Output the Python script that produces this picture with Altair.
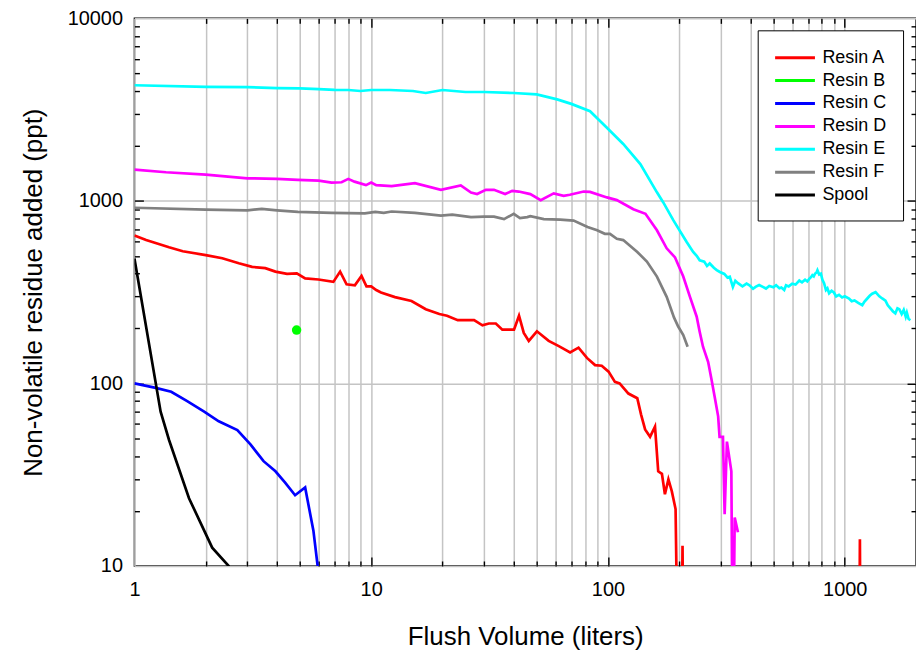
import altair as alt
import pandas as pd

# ---------------- data ----------------
names = ["Resin A", "Resin B", "Resin C", "Resin D", "Resin E", "Resin F", "Spool"]
colors = ["#ff0000", "#00ff00", "#0000ff", "#ff00ff", "#00ffff", "#808080", "#000000"]

resin_a_x = [1, 1.12, 1.40, 1.60, 2.0, 2.35, 2.76, 3.14, 3.57, 3.94, 4.41, 4.85, 5.26, 5.99,
             6.92, 7.39, 7.87, 8.53, 9.1, 9.55, 10.0, 10.5, 11.0, 12.6, 14.8, 17.0, 19.4, 20.9,
             23.2, 27.2, 29.5, 31.4, 33.6, 35.8, 40.1, 42.1, 44.1, 46.3, 50.1, 56.2, 62.0, 69.2,
             75.1, 81.5, 88.2, 94.1, 100.6, 107, 112, 122, 133, 138, 143.5, 150.6, 158, 163,
             169, 174, 180, 186, 193, 198, 204, 206.5, 209, 1150, 1159, 1168]
resin_a_y = [647, 610, 557, 530, 505, 485, 455, 435, 428, 410, 398, 401, 376, 371,
             360, 410, 349, 345, 388, 340, 340, 325, 315, 297, 283, 255, 240, 235,
             222, 222, 208, 213, 213, 197, 197, 235, 189, 171, 193, 171, 160, 148,
             157, 138, 126, 125, 116, 102, 100, 88, 83, 67.5, 56, 51, 58, 33,
             32, 24.7, 29.8, 25.7, 20.5, 2, 2, 12.9, 2, 2, 14, 2]

resin_b_x = [4.84]
resin_b_y = [196]

resin_c_x = [1, 1.23, 1.43, 1.67, 1.97, 2.27, 2.72, 3.09, 3.51, 3.94, 4.33, 4.77, 5.26, 5.7, 5.94, 6.2]
resin_c_y = [100, 94.5, 90, 80, 70, 62, 55.5, 46.3, 37.5, 33, 28.6, 24.4, 26.9, 15.6, 10, 5]

resin_d_x = [1, 1.36, 2, 3, 4, 4.9, 6, 6.8, 7.5, 8.0, 8.5, 9.5, 10, 10.5, 12.2, 15.3, 19.7,
             23.9, 26.4, 28, 30.5, 33, 36.8, 39.4, 42, 47, 52, 59, 65, 69, 79, 84, 99, 109,
             128, 144, 161, 177, 192, 208, 222, 237, 244, 252, 265, 273, 282, 292, 296, 306,
             311, 318, 332, 337, 343, 354]
resin_d_y = [1483, 1435, 1393, 1330, 1320, 1305, 1290, 1260, 1265, 1320, 1275, 1220, 1260, 1220,
             1205, 1250, 1150, 1215, 1110, 1090, 1150, 1150, 1090, 1135, 1125, 1090, 1010, 1100,
             1065, 1080, 1125, 1120, 1045, 1010, 900, 850, 690, 550, 490, 385, 298, 232, 192,
             159, 131, 107, 85, 66, 51, 51, 19.2, 48, 33, 2, 18.4, 15.3]

resin_e_x = [1, 2, 3, 4, 5, 6, 7, 8, 9, 10, 12, 15, 17, 20, 25, 30, 40, 50, 61, 70, 84, 98,
             116, 137, 161, 171, 189, 215, 229, 237, 244, 255, 262, 269, 280, 288, 297, 310,
             320, 327, 337, 345, 354, 370, 385, 396, 410, 420, 435, 451, 465, 480, 500, 513,
             530, 540, 555, 565, 580, 600, 620, 643, 660, 680, 695, 708, 720, 730, 740, 750,
             760, 767, 780, 793, 805, 818, 833, 845, 859, 880, 900, 920, 946, 975, 1000, 1043,
             1070, 1100, 1140, 1186, 1210, 1240, 1275, 1306, 1350, 1400, 1440, 1486, 1520,
             1550, 1600, 1636, 1670, 1700, 1740, 1775, 1810, 1830, 1860, 1893]
resin_e_y = [4300, 4210, 4200, 4150, 4130, 4100, 4060, 4050, 4000, 4050, 4050, 4000, 3900, 4050,
             3950, 3950, 3900, 3830, 3600, 3400, 3100, 2550, 2050, 1590, 1114, 984, 782, 595,
             525, 500, 473, 465, 440, 454, 430, 418, 408, 398, 380, 384, 338, 365, 354, 340,
             352, 345, 330, 338, 346, 338, 331, 342, 336, 345, 332, 335, 325, 345, 340, 352,
             348, 366, 358, 370, 362, 374, 382, 392, 386, 400, 405, 417, 395, 399, 370, 354,
             325, 332, 312, 322, 315, 300, 306, 296, 300, 292, 282, 285, 276, 268, 280, 290,
             302, 310, 316, 300, 292, 284, 268, 260, 248, 242, 258, 255, 240, 253, 232, 244,
             226, 222]

resin_f_x = [1, 2, 3, 3.45, 4, 4.9, 6.8, 9.4, 10.4, 11.3, 12.2, 15.3, 19.7, 22, 26.4, 30, 33,
             36.4, 40, 42.5, 45.6, 47, 53.6, 62.8, 71.6, 82, 90, 97, 102, 109, 116, 133, 146,
             161, 177, 190, 198, 208, 217]
resin_f_y = [917, 895, 888, 905, 888, 870, 860, 855, 870, 860, 875, 860, 830, 840, 815, 820, 820,
             795, 850, 805, 815, 825, 795, 790, 780, 720, 690, 660, 660, 620, 610, 525, 465,
             385, 298, 230, 205, 184, 159]

spool_x = [1, 1.29, 1.40, 1.70, 2.13, 2.5, 2.8]
spool_y = [483, 70, 49, 23.5, 12.6, 10, 7]

# axis tick / grid values
grid_x = [1, 2, 3, 4, 5, 6, 7, 8, 9, 10, 20, 30, 40, 50, 60, 70, 80, 90,
          100, 200, 300, 400, 500, 600, 700, 800, 900, 1000, 2000]
minor_x = [2, 3, 4, 5, 6, 7, 8, 9, 20, 30, 40, 50, 60, 70, 80, 90,
           200, 300, 400, 500, 600, 700, 800, 900]
major_x = [10, 100, 1000]
label_y = [10, 100, 1000, 10000]
minor_y = [20, 30, 40, 50, 60, 70, 80, 90, 200, 300, 400, 500, 600, 700, 800, 900,
           2000, 3000, 4000, 5000, 6000, 7000, 8000, 9000]
major_y = [100, 1000]

# ---------------- build tables ----------------
line_series = [("Resin A", resin_a_x, resin_a_y), ("Resin C", resin_c_x, resin_c_y),
               ("Resin D", resin_d_x, resin_d_y), ("Resin E", resin_e_x, resin_e_y),
               ("Resin F", resin_f_x, resin_f_y), ("Spool", spool_x, spool_y)]
rows = []
for name, xs_, ys_ in line_series:
    for i, (xv, yv) in enumerate(zip(xs_, ys_)):
        rows.append({"series": name, "x": xv, "y": yv, "i": i})
lines_df = pd.DataFrame(rows)
point_df = pd.DataFrame({"series": ["Resin B"] * len(resin_b_x), "x": resin_b_x, "y": resin_b_y})
dummy_df = pd.DataFrame({"x": [1, 2000], "y": [10, 10000]})

FONT = "Liberation Sans"
xs = alt.Scale(type="log", domain=[1, 2000], nice=False)
ys = alt.Scale(type="log", domain=[10, 10000], nice=False)

x_main = alt.X("x:Q", scale=xs, axis=alt.Axis(
    orient="bottom", values=grid_x, grid=True, ticks=False, domain=False,
    labelExpr="(datum.value == 1 || datum.value == 10 || datum.value == 100 || datum.value == 1000) ? format(datum.value, 'd') : ''",
    labelPadding=14, labelFlush=False, labelOverlap=False,
    title="Flush Volume (liters)", titlePadding=24))
y_main = alt.Y("y:Q", scale=ys, axis=alt.Axis(
    orient="left", values=label_y, grid=True, ticks=False, domain=False,
    labelExpr="format(datum.value, 'd')", labelPadding=12, labelFlush=False, labelOverlap=False,
    title="Non-volatile residue added (ppt)", titlePadding=21))

lines = alt.Chart(lines_df).mark_line(strokeWidth=2.7, clip=True).encode(
    x=x_main, y=y_main,
    color=alt.Color("series:N", scale=alt.Scale(domain=names, range=colors),
                    legend=alt.Legend(orient="none", legendX=626, legendY=12, title=None,
                                      symbolType="M-1,0H3", symbolStrokeWidth=3, symbolSize=400,
                                      labelFont=FONT, labelFontSize=18, labelColor="black",
                                      labelOffset=26, strokeColor="black", fillColor="white",
                                      padding=16, rowPadding=2)),
    order="i:Q",
)

points = alt.Chart(point_df).mark_circle(size=90, opacity=1, color="#00ff00", clip=True).encode(
    x=alt.X("x:Q", scale=xs, axis=None), y=alt.Y("y:Q", scale=ys, axis=None))


def tick_layer(x_orient, y_orient, xvals, yvals, size):
    return alt.Chart(dummy_df).mark_point(opacity=0).encode(
        x=alt.X("x:Q", scale=xs, axis=alt.Axis(orient=x_orient, values=xvals, labels=False, grid=False,
                                               domain=False, ticks=True, tickSize=size, tickWidth=1.4,
                                               tickColor="black", offset=-size, title=None)),
        y=alt.Y("y:Q", scale=ys, axis=alt.Axis(orient=y_orient, values=yvals, labels=False, grid=False,
                                               domain=False, ticks=True, tickSize=size, tickWidth=1.4,
                                               tickColor="black", offset=-size, title=None)),
    )


chart = alt.layer(
    lines, points,
    tick_layer("top", "right", minor_x, minor_y, 5),
    tick_layer("bottom", "left", minor_x, minor_y, 5),
    tick_layer("top", "right", major_x, major_y, 9),
    tick_layer("bottom", "left", major_x, major_y, 9),
).resolve_axis(x="independent", y="independent").properties(
    width=785, height=550,
    autosize=alt.AutoSizeParams(type="none"),
    padding={"left": 127, "top": 9, "right": 0, "bottom": 83},
).configure_view(stroke="black", strokeWidth=1.5).configure_axis(
    labelFont=FONT, labelFontSize=20, labelColor="black",
    titleFont=FONT, titleFontSize=26, titleFontWeight="normal", titleColor="black",
    gridColor="#c4c4c4", gridWidth=1.5, gridOpacity=1,
)

chart.save("out.html", embed_options={"renderer": "svg", "actions": False})
